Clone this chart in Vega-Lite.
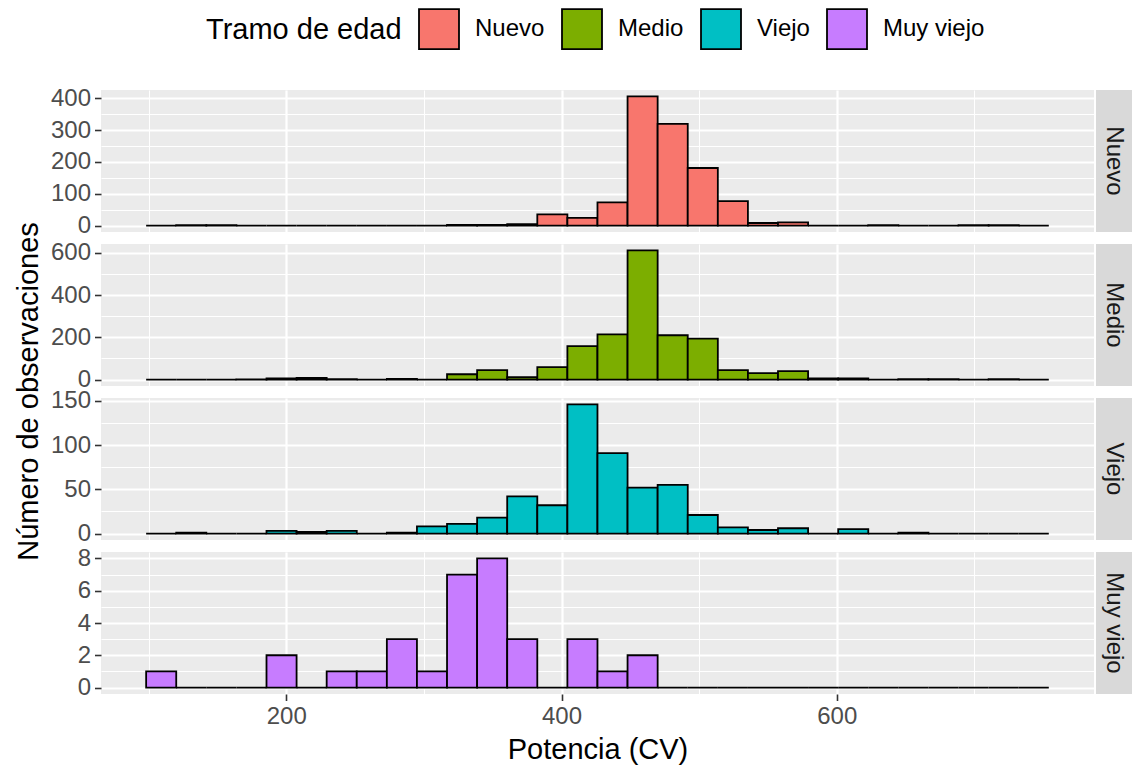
{
  "$schema": "https://vega.github.io/schema/vega-lite/v6.json",
  "background": "white",
  "padding": {"left": 14, "top": 8, "right": 0, "bottom": 0},
  "columns": 2,
  "spacing": {"row": 12, "column": 2},
  "bounds": "flush",
  "config": {
    "font": "Liberation Sans",
    "view": {"fill": "#EBEBEB", "stroke": null},
    "axis": {
      "domain": false,
      "gridColor": "white",
      "labelColor": "#4D4D4D",
      "labelFontSize": 24,
      "labelPadding": 4,
      "labelFlush": false,
      "tickColor": "#333333",
      "tickSize": 6.5,
      "tickWidth": 1.6,
      "titleFontSize": 29,
      "titleColor": "black",
      "titleFontWeight": "normal",
      "titlePadding": 7
    },
    "text": {"font": "Liberation Sans"}
  },
  "data": {
    "values": [
      {"desde": 98.2, "hasta": 120.06, "Nuevo": 0, "Medio": 0, "Viejo": 0, "Muy viejo": 1},
      {"desde": 120.06, "hasta": 141.92, "Nuevo": 1, "Medio": 0, "Viejo": 1, "Muy viejo": 0},
      {"desde": 141.92, "hasta": 163.79, "Nuevo": 1, "Medio": 0, "Viejo": 0, "Muy viejo": 0},
      {"desde": 163.79, "hasta": 185.65, "Nuevo": 0, "Medio": 1, "Viejo": 0, "Muy viejo": 0},
      {"desde": 185.65, "hasta": 207.51, "Nuevo": 0, "Medio": 5, "Viejo": 3, "Muy viejo": 2},
      {"desde": 207.51, "hasta": 229.37, "Nuevo": 0, "Medio": 8, "Viejo": 2, "Muy viejo": 0},
      {"desde": 229.37, "hasta": 251.23, "Nuevo": 0, "Medio": 2, "Viejo": 3, "Muy viejo": 1},
      {"desde": 251.23, "hasta": 273.10, "Nuevo": 0, "Medio": 0, "Viejo": 0, "Muy viejo": 1},
      {"desde": 273.10, "hasta": 294.96, "Nuevo": 0, "Medio": 3, "Viejo": 1, "Muy viejo": 3},
      {"desde": 294.96, "hasta": 316.82, "Nuevo": 0, "Medio": 0, "Viejo": 8, "Muy viejo": 1},
      {"desde": 316.82, "hasta": 338.68, "Nuevo": 2, "Medio": 25, "Viejo": 11, "Muy viejo": 7},
      {"desde": 338.68, "hasta": 360.54, "Nuevo": 2, "Medio": 45, "Viejo": 18, "Muy viejo": 8},
      {"desde": 360.54, "hasta": 382.41, "Nuevo": 4, "Medio": 11, "Viejo": 42, "Muy viejo": 3},
      {"desde": 382.41, "hasta": 404.27, "Nuevo": 35, "Medio": 59, "Viejo": 32, "Muy viejo": 0},
      {"desde": 404.27, "hasta": 426.13, "Nuevo": 24, "Medio": 158, "Viejo": 146, "Muy viejo": 3},
      {"desde": 426.13, "hasta": 447.99, "Nuevo": 73, "Medio": 214, "Viejo": 91, "Muy viejo": 1},
      {"desde": 447.99, "hasta": 469.85, "Nuevo": 406, "Medio": 612, "Viejo": 52, "Muy viejo": 2},
      {"desde": 469.85, "hasta": 491.72, "Nuevo": 320, "Medio": 210, "Viejo": 55, "Muy viejo": 0},
      {"desde": 491.72, "hasta": 513.58, "Nuevo": 181, "Medio": 194, "Viejo": 21, "Muy viejo": 0},
      {"desde": 513.58, "hasta": 535.44, "Nuevo": 77, "Medio": 45, "Viejo": 7, "Muy viejo": 0},
      {"desde": 535.44, "hasta": 557.30, "Nuevo": 8, "Medio": 30, "Viejo": 4, "Muy viejo": 0},
      {"desde": 557.30, "hasta": 579.16, "Nuevo": 10, "Medio": 40, "Viejo": 6, "Muy viejo": 0},
      {"desde": 579.16, "hasta": 601.03, "Nuevo": 0, "Medio": 5, "Viejo": 0, "Muy viejo": 0},
      {"desde": 601.03, "hasta": 622.89, "Nuevo": 0, "Medio": 6, "Viejo": 5, "Muy viejo": 0},
      {"desde": 622.89, "hasta": 644.75, "Nuevo": 1, "Medio": 0, "Viejo": 0, "Muy viejo": 0},
      {"desde": 644.75, "hasta": 666.61, "Nuevo": 0, "Medio": 2, "Viejo": 1, "Muy viejo": 0},
      {"desde": 666.61, "hasta": 688.47, "Nuevo": 0, "Medio": 2, "Viejo": 0, "Muy viejo": 0},
      {"desde": 688.47, "hasta": 710.34, "Nuevo": 1, "Medio": 0, "Viejo": 0, "Muy viejo": 0},
      {"desde": 710.34, "hasta": 732.20, "Nuevo": 1, "Medio": 2, "Viejo": 0, "Muy viejo": 0},
      {"desde": 732.20, "hasta": 754.06, "Nuevo": 0, "Medio": 0, "Viejo": 0, "Muy viejo": 0}
    ]
  },
  "concat": [
    {
      "width": 993,
      "height": 142,
      "transform": [
        {"fold": ["Nuevo", "Medio", "Viejo", "Muy viejo"], "as": ["tramo", "n"]},
        {"filter": "datum.tramo === 'Nuevo'"}
      ],
      "mark": {"type": "rect", "stroke": "black", "strokeWidth": 1.8},
      "encoding": {
        "x": {
          "field": "desde", "type": "quantitative",
          "scale": {"domain": [65.4, 786.9], "nice": false, "zero": false},
          "axis": {"title": null, "labels": false, "ticks": false, "values": [100, 200, 300, 400, 500, 600, 700],
            "gridWidth": {"condition": {"test": "datum.value % 200 === 0", "value": 2.2}, "value": 1.1}}
        },
        "x2": {"field": "hasta"},
        "y": {
          "field": "n", "type": "quantitative",
          "scale": {"domain": [-20.3, 426.3], "nice": false, "zero": false},
          "axis": {"title": null, "values": [0, 50, 100, 150, 200, 250, 300, 350, 400],
            "labelExpr": "datum.value % 100 === 0 ? datum.label : ''",
            "tickOpacity": {"condition": {"test": "datum.value % 100 !== 0", "value": 0}, "value": 1},
            "gridWidth": {"condition": {"test": "datum.value % 100 === 0", "value": 2.2}, "value": 1.1}}
        },
        "y2": {"datum": 0},
        "fill": {
          "field": "tramo", "type": "nominal",
          "scale": {"domain": ["Nuevo", "Medio", "Viejo", "Muy viejo"], "range": ["#F8766D", "#7CAE00", "#00BFC4", "#C77CFF"]},
          "legend": {"title": "Tramo de edad", "orient": "none", "legendX": 105, "legendY": -82, "direction": "horizontal",
            "titleOrient": "left", "titleFontSize": 29, "titleFontWeight": "normal", "titleColor": "black", "titlePadding": 16, "titleLimit": 500,
            "labelFontSize": 24, "labelColor": "black", "labelOffset": 15, "columnPadding": 13, "labelLimit": 300,
            "symbolType": "square", "symbolSize": 1600, "symbolStrokeColor": "black", "symbolStrokeWidth": 1.8, "symbolOpacity": 1}
        }
      }
    },
    {
      "width": 36, "height": 142,
      "view": {"fill": "#D9D9D9", "stroke": null},
      "data": {"values": [{"tramo": "Nuevo"}]},
      "mark": {"type": "text", "angle": 90, "fontSize": 24, "color": "#1A1A1A", "align": "center", "baseline": "middle"},
      "encoding": {"text": {"field": "tramo"}}
    },
    {
      "width": 993,
      "height": 142,
      "transform": [
        {"fold": ["Nuevo", "Medio", "Viejo", "Muy viejo"], "as": ["tramo", "n"]},
        {"filter": "datum.tramo === 'Medio'"}
      ],
      "mark": {"type": "rect", "stroke": "black", "strokeWidth": 1.8},
      "encoding": {
        "x": {
          "field": "desde", "type": "quantitative",
          "scale": {"domain": [65.4, 786.9], "nice": false, "zero": false},
          "axis": {"title": null, "labels": false, "ticks": false, "values": [100, 200, 300, 400, 500, 600, 700],
            "gridWidth": {"condition": {"test": "datum.value % 200 === 0", "value": 2.2}, "value": 1.1}}
        },
        "x2": {"field": "hasta"},
        "y": {
          "field": "n", "type": "quantitative",
          "scale": {"domain": [-30.6, 642.6], "nice": false, "zero": false},
          "axis": {"title": "Número de observaciones", "titleY": 147, "values": [0, 100, 200, 300, 400, 500, 600],
            "labelExpr": "datum.value % 200 === 0 ? datum.label : ''",
            "tickOpacity": {"condition": {"test": "datum.value % 200 !== 0", "value": 0}, "value": 1},
            "gridWidth": {"condition": {"test": "datum.value % 200 === 0", "value": 2.2}, "value": 1.1}}
        },
        "y2": {"datum": 0},
        "fill": {
          "field": "tramo", "type": "nominal",
          "scale": {"domain": ["Nuevo", "Medio", "Viejo", "Muy viejo"], "range": ["#F8766D", "#7CAE00", "#00BFC4", "#C77CFF"]},
          "legend": {"title": "Tramo de edad", "orient": "none", "legendX": 105, "legendY": -82, "direction": "horizontal",
            "titleOrient": "left", "titleFontSize": 29, "titleFontWeight": "normal", "titleColor": "black", "titlePadding": 16, "titleLimit": 500,
            "labelFontSize": 24, "labelColor": "black", "labelOffset": 15, "columnPadding": 13, "labelLimit": 300,
            "symbolType": "square", "symbolSize": 1600, "symbolStrokeColor": "black", "symbolStrokeWidth": 1.8, "symbolOpacity": 1}
        }
      }
    },
    {
      "width": 36, "height": 142,
      "view": {"fill": "#D9D9D9", "stroke": null},
      "data": {"values": [{"tramo": "Medio"}]},
      "mark": {"type": "text", "angle": 90, "fontSize": 24, "color": "#1A1A1A", "align": "center", "baseline": "middle"},
      "encoding": {"text": {"field": "tramo"}}
    },
    {
      "width": 993,
      "height": 142,
      "transform": [
        {"fold": ["Nuevo", "Medio", "Viejo", "Muy viejo"], "as": ["tramo", "n"]},
        {"filter": "datum.tramo === 'Viejo'"}
      ],
      "mark": {"type": "rect", "stroke": "black", "strokeWidth": 1.8},
      "encoding": {
        "x": {
          "field": "desde", "type": "quantitative",
          "scale": {"domain": [65.4, 786.9], "nice": false, "zero": false},
          "axis": {"title": null, "labels": false, "ticks": false, "values": [100, 200, 300, 400, 500, 600, 700],
            "gridWidth": {"condition": {"test": "datum.value % 200 === 0", "value": 2.2}, "value": 1.1}}
        },
        "x2": {"field": "hasta"},
        "y": {
          "field": "n", "type": "quantitative",
          "scale": {"domain": [-7.3, 153.3], "nice": false, "zero": false},
          "axis": {"title": null, "values": [0, 25, 50, 75, 100, 125, 150],
            "labelExpr": "datum.value % 50 === 0 ? datum.label : ''",
            "tickOpacity": {"condition": {"test": "datum.value % 50 !== 0", "value": 0}, "value": 1},
            "gridWidth": {"condition": {"test": "datum.value % 50 === 0", "value": 2.2}, "value": 1.1}}
        },
        "y2": {"datum": 0},
        "fill": {
          "field": "tramo", "type": "nominal",
          "scale": {"domain": ["Nuevo", "Medio", "Viejo", "Muy viejo"], "range": ["#F8766D", "#7CAE00", "#00BFC4", "#C77CFF"]},
          "legend": {"title": "Tramo de edad", "orient": "none", "legendX": 105, "legendY": -82, "direction": "horizontal",
            "titleOrient": "left", "titleFontSize": 29, "titleFontWeight": "normal", "titleColor": "black", "titlePadding": 16, "titleLimit": 500,
            "labelFontSize": 24, "labelColor": "black", "labelOffset": 15, "columnPadding": 13, "labelLimit": 300,
            "symbolType": "square", "symbolSize": 1600, "symbolStrokeColor": "black", "symbolStrokeWidth": 1.8, "symbolOpacity": 1}
        }
      }
    },
    {
      "width": 36, "height": 142,
      "view": {"fill": "#D9D9D9", "stroke": null},
      "data": {"values": [{"tramo": "Viejo"}]},
      "mark": {"type": "text", "angle": 90, "fontSize": 24, "color": "#1A1A1A", "align": "center", "baseline": "middle"},
      "encoding": {"text": {"field": "tramo"}}
    },
    {
      "width": 993,
      "height": 142,
      "transform": [
        {"fold": ["Nuevo", "Medio", "Viejo", "Muy viejo"], "as": ["tramo", "n"]},
        {"filter": "datum.tramo === 'Muy viejo'"}
      ],
      "mark": {"type": "rect", "stroke": "black", "strokeWidth": 1.8},
      "encoding": {
        "x": {
          "field": "desde", "type": "quantitative",
          "scale": {"domain": [65.4, 786.9], "nice": false, "zero": false},
          "axis": {"title": "Potencia (CV)", "values": [100, 200, 300, 400, 500, 600, 700],
            "labelExpr": "datum.value % 200 === 0 ? datum.label : ''",
            "tickOpacity": {"condition": {"test": "datum.value % 200 !== 0", "value": 0}, "value": 1},
            "gridWidth": {"condition": {"test": "datum.value % 200 === 0", "value": 2.2}, "value": 1.1}}
        },
        "x2": {"field": "hasta"},
        "y": {
          "field": "n", "type": "quantitative",
          "scale": {"domain": [-0.4, 8.4], "nice": false, "zero": false},
          "axis": {"title": null, "values": [0, 1, 2, 3, 4, 5, 6, 7, 8],
            "labelExpr": "datum.value % 2 === 0 ? datum.label : ''",
            "tickOpacity": {"condition": {"test": "datum.value % 2 !== 0", "value": 0}, "value": 1},
            "gridWidth": {"condition": {"test": "datum.value % 2 === 0", "value": 2.2}, "value": 1.1}}
        },
        "y2": {"datum": 0},
        "fill": {
          "field": "tramo", "type": "nominal",
          "scale": {"domain": ["Nuevo", "Medio", "Viejo", "Muy viejo"], "range": ["#F8766D", "#7CAE00", "#00BFC4", "#C77CFF"]},
          "legend": {"title": "Tramo de edad", "orient": "none", "legendX": 105, "legendY": -82, "direction": "horizontal",
            "titleOrient": "left", "titleFontSize": 29, "titleFontWeight": "normal", "titleColor": "black", "titlePadding": 16, "titleLimit": 500,
            "labelFontSize": 24, "labelColor": "black", "labelOffset": 15, "columnPadding": 13, "labelLimit": 300,
            "symbolType": "square", "symbolSize": 1600, "symbolStrokeColor": "black", "symbolStrokeWidth": 1.8, "symbolOpacity": 1}
        }
      }
    },
    {
      "width": 36, "height": 142,
      "view": {"fill": "#D9D9D9", "stroke": null},
      "data": {"values": [{"tramo": "Muy viejo"}]},
      "mark": {"type": "text", "angle": 90, "fontSize": 24, "color": "#1A1A1A", "align": "center", "baseline": "middle"},
      "encoding": {"text": {"field": "tramo"}}
    }
  ]
}
